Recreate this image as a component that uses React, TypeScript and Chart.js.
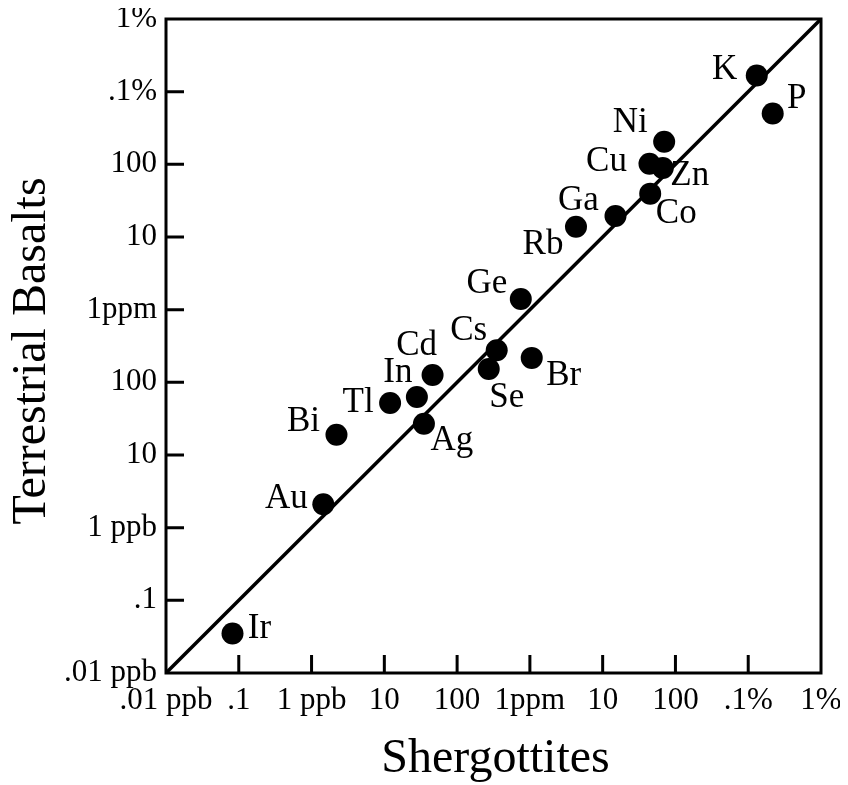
import React, { useEffect, useRef } from 'react';
import { Chart, registerables } from 'chart.js';

Chart.register(...registerables);

// Element symbols and concentrations (in ppb)
const elements = ['K', 'P', 'Ni', 'Cu', 'Zn', 'Co', 'Ga', 'Rb', 'Ge', 'Cs', 'Br', 'Se', 'Cd', 'In', 'Tl', 'Ag', 'Bi', 'Au', 'Ir'];
const shergottites = [1.31e6, 2.17e6, 7.0e4, 4.4e4, 6.7e4, 4.5e4, 1.5e4, 4.3e3, 750, 350, 1060, 272, 46, 28, 12, 35, 2.2, 1.45, 0.082];
const terrestrialBasalts = [1.67e6, 5.0e5, 2.05e5, 1.02e5, 8.9e4, 3.95e4, 1.95e4, 1.38e4, 1400, 276, 217, 153, 126, 63, 52, 27, 19, 2.1, 0.035];

const tickValues = [0.01, 0.1, 1, 10, 100, 1e3, 1e4, 1e5, 1e6, 1e7];
const xTickLabels = ['.01 ppb', '.1', '1 ppb', '10', '100', '1ppm', '10', '100', '.1%', '1%'];
const yTickLabels = ['.01 ppb', '.1', '1 ppb', '10', '100', '1ppm', '10', '100', '.1%', '1%'];
const equalityLine = [0.01, 1e7];

const xTitle = 'Shergottites';
const yTitle = 'Terrestrial Basalts';

// label placement relative to each point (style, not data)
const labelOffsets: Record<string, [number, number]> = {
  K: [-32, -6], P: [24, -15], Ni: [-34, -19], Cu: [-43, -2], Zn: [27, 8], Co: [26, 20],
  Ga: [-37, -15], Rb: [-33, 18], Ge: [-34, -15], Cs: [-28, -19], Br: [32, 18], Se: [18, 29],
  Cd: [-16, -29], In: [-19, -24], Tl: [-32, 0], Ag: [28, 17], Bi: [-33, -13], Au: [-37, -5], Ir: [27, -5],
};

const FONT = '"Liberation Serif", "Times New Roman", serif';

export default function App() {
  const ref = useRef<HTMLCanvasElement | null>(null);

  useEffect(() => {
    const canvas = ref.current;
    if (!canvas) return;

    const decor = {
      id: 'decor',
      afterDraw(chart: any) {
        const { ctx, chartArea: a, scales } = chart;
        ctx.save();
        ctx.strokeStyle = '#000';
        ctx.fillStyle = '#000';
        ctx.lineWidth = 3;
        ctx.strokeRect(a.left, a.top, a.right - a.left, a.bottom - a.top);
        ctx.beginPath();
        tickValues.slice(1, -1).forEach((v) => {
          const x = scales.x.getPixelForValue(v);
          ctx.moveTo(x, a.bottom);
          ctx.lineTo(x, a.bottom - 18);
          const y = scales.y.getPixelForValue(v);
          ctx.moveTo(a.left, y);
          ctx.lineTo(a.left + 18, y);
        });
        ctx.stroke();

        ctx.font = `35px ${FONT}`;
        ctx.textAlign = 'center';
        ctx.textBaseline = 'middle';
        const meta = chart.getDatasetMeta(0);
        meta.data.forEach((pt: any, i: number) => {
          const off = labelOffsets[elements[i]] || [0, 0];
          ctx.fillText(elements[i], pt.x + off[0], pt.y + off[1]);
        });

        ctx.textBaseline = 'alphabetic';
        ctx.font = `48px ${FONT}`;
        ctx.fillText(xTitle, (a.left + a.right) / 2 + 2, a.bottom + 99);

        ctx.translate(a.left - 121, (a.top + a.bottom) / 2 + 5);
        ctx.rotate(-Math.PI / 2);
        ctx.fillText(yTitle, 0, 0);
        ctx.restore();
      },
    };

    const chart = new Chart(canvas, {
      type: 'scatter',
      data: {
        datasets: [
          {
            label: 'Elements',
            data: elements.map((_, i) => ({ x: shergottites[i], y: terrestrialBasalts[i] })),
            pointRadius: 11,
            pointHoverRadius: 11,
            pointBackgroundColor: '#000',
            pointBorderWidth: 0,
            showLine: false,
          },
          {
            label: '1:1',
            data: equalityLine.map((v) => ({ x: v, y: v })),
            showLine: true,
            borderColor: '#000',
            borderWidth: 3.5,
            pointRadius: 0,
            pointHoverRadius: 0,
            fill: false,
          },
        ],
      },
      options: {
        responsive: false,
        animation: false,
        events: [],
        layout: { padding: { top: 8, right: 19, left: 0, bottom: 0 } },
        plugins: { legend: { display: false }, tooltip: { enabled: false } },
        scales: {
          x: {
            type: 'logarithmic',
            min: 0.01,
            max: 1e7,
            afterBuildTicks: (s: any) => { s.ticks = tickValues.map((v) => ({ value: v })); },
            afterFit: (s: any) => { s.height = 112; s.paddingLeft = 0; s.paddingRight = 0; },
            grid: { display: false, drawTicks: false },
            border: { display: false },
            ticks: {
              autoSkip: false, maxRotation: 0, minRotation: 0, padding: 9, color: '#000',
              font: { family: FONT, size: 31 },
              callback: (_v: any, i: number) => xTickLabels[i],
            },
          },
          y: {
            type: 'logarithmic',
            min: 0.01,
            max: 1e7,
            afterBuildTicks: (s: any) => { s.ticks = tickValues.map((v) => ({ value: v })); },
            afterFit: (s: any) => { s.width = 158; s.paddingTop = 0; s.paddingBottom = 0; },
            grid: { display: false, drawTicks: false },
            border: { display: false },
            ticks: {
              autoSkip: false, padding: 9, color: '#000',
              font: { family: FONT, size: 31 },
              callback: (_v: any, i: number) => yTickLabels[i],
            },
          },
        },
      },
      plugins: [decor],
    } as any);

    return () => chart.destroy();
  }, []);

  return (
    <div style={{ width: 832, height: 777 }}>
      <canvas ref={ref} width={832} height={777} style={{ display: 'block' }} />
    </div>
  );
}
